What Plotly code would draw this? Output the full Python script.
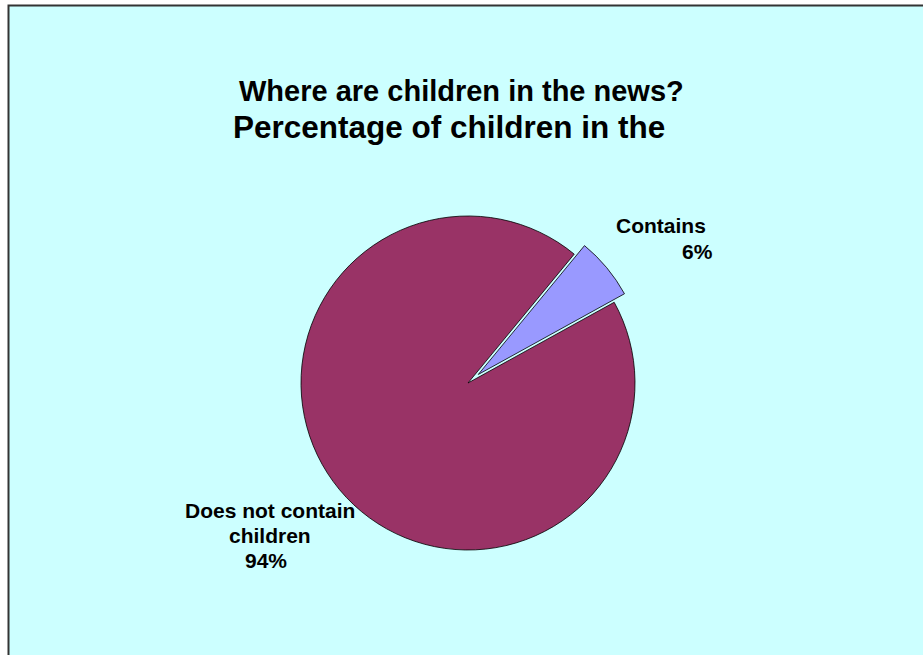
import plotly.graph_objects as go

labels = ["Contains children", "Does not contain children"]
values = [6, 94]
colors = ["#9999FF", "#993366"]
pulls = [0.08, 0]

title_line1 = "Where are children in the news?"
title_line2 = "Percentage of children in the"

W, H = 923, 655
cx, cy, r = 468, 383, 167
half = r * (1 + max(pulls))

fig = go.Figure()
fig.add_trace(go.Pie(
    labels=labels, values=values, sort=False, direction="clockwise",
    rotation=39.5, pull=pulls,
    marker=dict(colors=colors, line=dict(color="black", width=0.8)),
    textinfo="none", hoverinfo="label+percent", showlegend=False,
    domain=dict(x=[(cx - half) / W, (cx + half) / W],
                y=[(H - cy - half) / H, (H - cy + half) / H]),
))

fig.add_shape(type="rect", xref="paper", yref="paper",
              x0=8.5 / W, x1=1.02, y0=-0.02, y1=1 - 5.5 / H,
              fillcolor="#CCFFFF", line=dict(color="#333333", width=2),
              layer="below")

font = "Liberation Sans, Arial, sans-serif"


def label(text, x, y, size):
    fig.add_annotation(text="<b>" + text + "</b>", x=x / W, y=1 - y / H,
                       xref="paper", yref="paper", showarrow=False,
                       xanchor="center", yanchor="middle",
                       font=dict(family=font, size=size, color="black"))


label(title_line1, 461, 91, 29)
label(title_line2, 448.5, 127, 31.5)

pct = [round(v / sum(values) * 100) for v in values]
label("Contains", 661, 225, 21)
label("%d%%" % pct[0], 697, 251, 21)
label("Does not contain", 270, 510, 21)
label("children", 270, 535, 21)
label("%d%%" % pct[1], 266, 560, 21)

fig.update_layout(width=W, height=H, margin=dict(l=0, r=0, t=0, b=0),
                  paper_bgcolor="white")
fig.write_html("out.html", config={"displayModeBar": False},
               post_script="document.body.style.margin='0';"
                           "document.body.style.overflow='hidden';")
